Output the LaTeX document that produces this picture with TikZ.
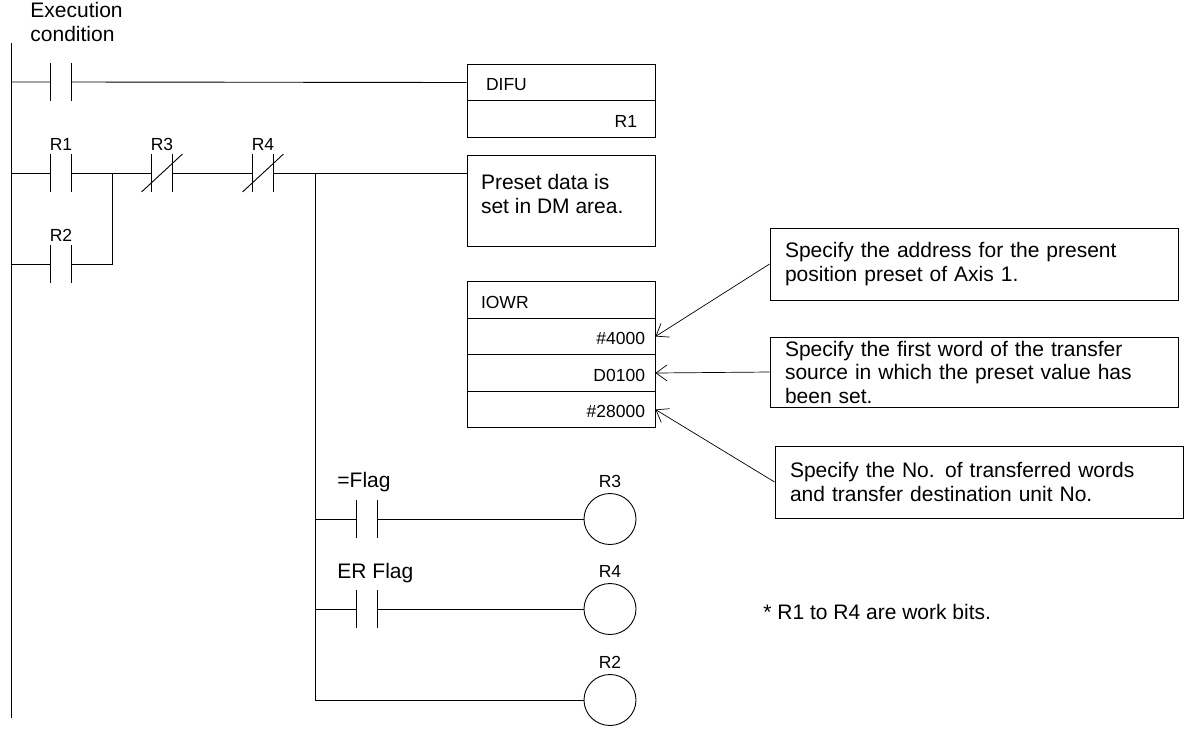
\documentclass[tikz,border=0pt]{standalone}
\usepackage{fontspec}
\setmainfont{Liberation Sans}
\usetikzlibrary{arrows.meta,positioning,shapes.geometric}

\begin{document}
\begin{tikzpicture}[x=1pt,y=-1pt,line width=0.9pt,
	contact/.style={minimum width=20pt,minimum height=37pt,inner sep=0pt},
	coil/.style={ellipse,draw,minimum width=52pt,minimum height=51pt,inner sep=0pt},
	cell/.style={draw,minimum width=188pt,minimum height=36.5pt,inner sep=0pt},
	note/.style={draw,minimum width=408pt,text width=378pt,align=left,inner sep=0pt,
		font=\fontsize{21}{23.5}\selectfont},
	lbl/.style={font=\fontsize{17.5}{20}\selectfont,inner sep=0pt},
	txt/.style={font=\fontsize{21}{24}\selectfont,inner sep=0pt},
	barb/.style={-{Straight Barb[length=11pt,width=16pt]},line width=0.7pt}]
	\useasboundingbox (0,0) rectangle (1190,732);
	% power rail
	\coordinate (top) at (11,43);
	\coordinate (bot) at (11,718);
	\draw (top) -- (bot);
	\node[txt,align=left,anchor=north west] (exec) at (30,2) {Execution\\condition};
	% contacts
	\node[contact] (c0) at (61,82) {};
	\node[contact] (r1) at (61,173) {};
	\node[contact] (r3) at (162,173) {};
	\node[contact] (r4) at (263,173) {};
	\node[contact] (r2) at (61,264) {};
	\node[contact] (fl) at (367,519) {};
	\node[contact] (er) at (367,609) {};
	\foreach \c in {c0,r1,r3,r4,r2,fl,er}
		\draw (\c.north west) -- (\c.south west) (\c.north east) -- (\c.south east);
	\draw (r3.south west) ++(-10,0) -- ([xshift=10pt]r3.north east);
	\draw (r4.south west) ++(-10,0) -- ([xshift=10pt]r4.north east);
	\node[lbl,above=3pt of r1] {R1};
	\node[lbl,above=3pt of r3] {R3};
	\node[lbl,above=3pt of r4] {R4};
	\node[lbl,above=3pt of r2] {R2};
	\node[txt,anchor=west] at (337,482) {=Flag};
	\node[txt,anchor=west] at (337,573) {ER Flag};
	% coils
	\node[coil] (k3) at (610,519) {};
	\node[coil] (k4) at (610,609) {};
	\node[coil] (k2) at (610,700) {};
	\node[lbl,above=5pt of k3] {R3};
	\node[lbl,above=5pt of k4] {R4};
	\node[lbl,above=5pt of k2] {R2};
	% DIFU
	\node[cell] (difu) at (561,82.5) {};
	\node[cell] (difu2) at (561,119) {};
	\node[lbl,anchor=west] at ([xshift=19pt,yshift=-2pt]difu.west) {DIFU};
	\node[lbl,anchor=east] at ([xshift=-18pt,yshift=-2pt]difu2.east) {R1};
	% preset data
	\node[draw,minimum width=188pt,minimum height=91pt,inner sep=0pt] (preset) at (561,200.5) {};
	\node[txt,align=left,anchor=north west] at ([xshift=14pt,yshift=-19pt]preset.north west) {Preset data is\\set in DM area.};
	% IOWR
	\node[cell] (iowr) at (561,300) {};
	\node[cell] (w1) at (561,336.5) {};
	\node[cell] (w2) at (561,373) {};
	\node[cell] (w3) at (561,409.5) {};
	\node[lbl,anchor=west] at ([xshift=14pt,yshift=-2pt]iowr.west) {IOWR};
	\node[lbl,anchor=east] at ([xshift=-10pt,yshift=-2pt]w1.east) {\#4000};
	\node[lbl,anchor=east] at ([xshift=-10pt,yshift=-2pt]w2.east) {D0100};
	\node[lbl,anchor=east] at ([xshift=-10pt,yshift=-2pt]w3.east) {\#28000};
	% wiring
	\coordinate (j1) at (112,173);
	\coordinate (bus) at (315,173);
	\draw (top |- c0) -- (c0.west) (c0.east) -- (difu.west);
	\draw (top |- r1) -- (r1.west) (r1.east) -- (r3.west) (r3.east) -- (r4.west) (r4.east) -- (preset.west |- r4);
	\draw (top |- r2) -- (r2.west) (r2.east) -| (j1);
	\draw (bus) -- (bus |- k2) -- (k2.west);
	\draw (bus |- fl) -- (fl.west) (fl.east) -- (k3.west);
	\draw (bus |- er) -- (er.west) (er.east) -- (k4.west);
	% notes
	\node[note,minimum height=72pt] (n1) at (974,264) {Specify the address for the present\\position preset of Axis 1.};
	\node[note,minimum height=70pt] (n2) at (974,372) {Specify the first word of the transfer\\source in which the preset value has\\been set.};
	\node[note,minimum height=72pt] (n3) at (979,482) {Specify the No. of transferred words\\and transfer destination unit No.};
	\draw[barb] (n1.west) -- (w1.east);
	\draw[barb] (n2.west) -- (w2.east);
	\draw[barb] (n3.west) -- (w3.east);
	\node[txt,anchor=west] (foot) at (763,612) {* R1 to R4 are work bits.};
\end{tikzpicture}
\end{document}
